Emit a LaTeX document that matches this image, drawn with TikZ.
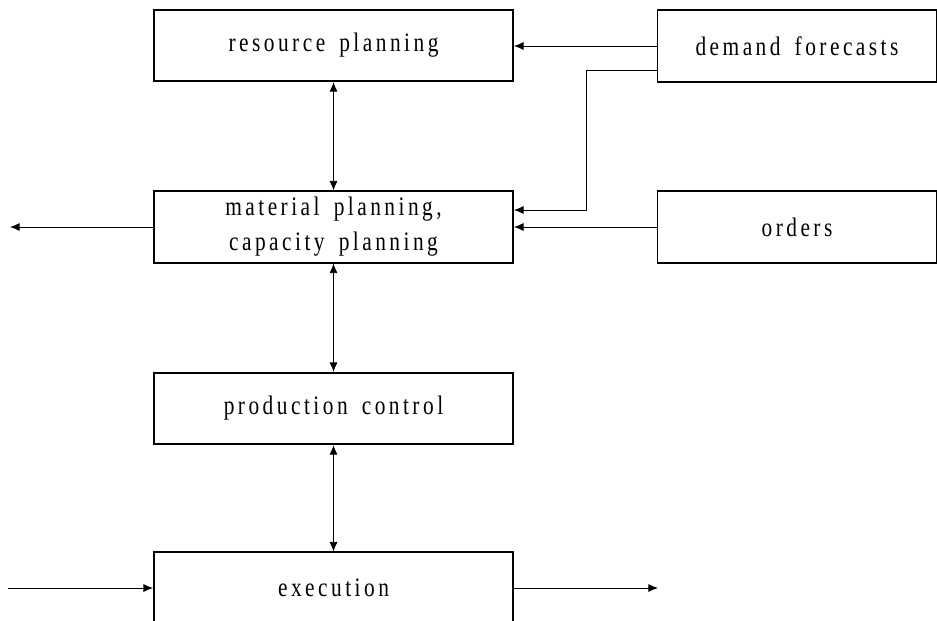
\documentclass[tikz,border=0pt]{standalone}
\usepackage{fontspec}
\setmainfont{Liberation Serif}
\newfontfamily\boxfont[FakeStretch=0.8,LetterSpace=13,WordSpace=1.6]{Liberation Serif}
\usetikzlibrary{arrows.meta,positioning}
\tikzset{
  block/.style={draw,line width=1.3pt,minimum width=8.975cm,minimum height=1.78cm,
    inner sep=0pt,align=center,font=\boxfont\fontsize{19}{25}\selectfont},
  sidebox/.style={block,minimum width=6.975cm},
  arrow/.style={-{Latex[length=2.4mm,width=2mm]},line width=0.6pt},
  twoway/.style={{Latex[length=2.4mm,width=2mm]}-{Latex[length=2.4mm,width=2mm]},line width=0.6pt}
}
\begin{document}
\begin{tikzpicture}[x=0.025cm,y=-0.025cm]
  \useasboundingbox (0,0) rectangle (937,620);
  \begin{scope}
  \clip (0,0) rectangle (937,620);
  % main column
  \node[block] (resource) at (333.5,45.5) {resource planning};
  \node[block] (material) at (333.5,227) {material planning,\\capacity planning};
  \node[block] (control) at (333.5,408.5) {production control};
  \node[block] (execution) at (333.5,588) {execution};
  % inputs on the right
  \node[sidebox] (demand) at (797,46) {demand forecasts};
  \node[sidebox] (orders) at (797,227) {orders};
  \end{scope}
  \coordinate (matout) at (10,227);
  \coordinate (exin) at (8,588);
  \coordinate (exout) at (658,588);
  % connectors
  \draw[twoway] (resource) -- (material);
  \draw[twoway] (material) -- (control);
  \draw[twoway] (control) -- (execution.north);
  \draw[arrow] (demand.west |- 0,46) -- (resource.east |- 0,46);
  \draw[arrow] ([yshift=-0.6cm]demand.west) -| (586,210) -- (material.east |- 0,210);
  \draw[arrow] (orders.west) -- (material.east);
  \draw[arrow] (material.west) -- (matout);
  \draw[arrow] (exin) -- (execution.west);
  \draw[arrow] (execution.east) -- (exout);
\end{tikzpicture}
\end{document}
